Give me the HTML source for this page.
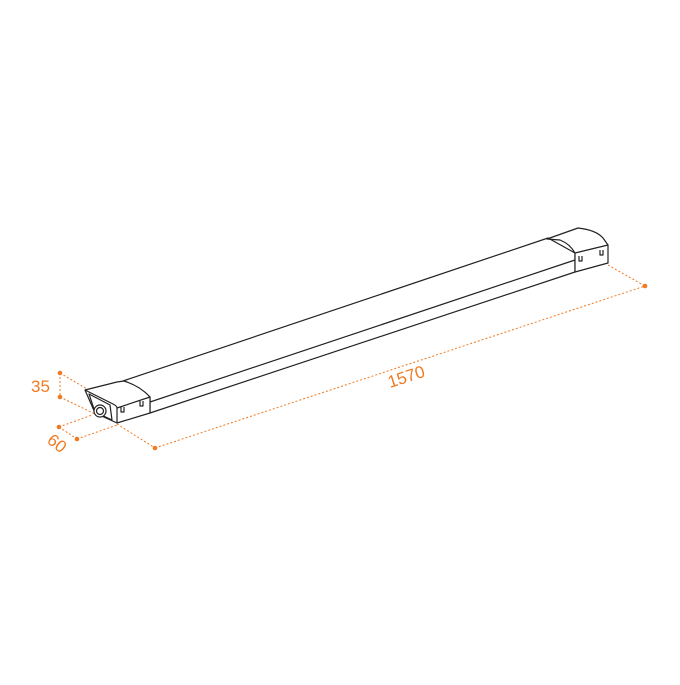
<!DOCTYPE html>
<html><head><meta charset="utf-8"><style>html,body{margin:0;padding:0;background:#fff}</style></head>
<body>
<svg width="680" height="680" viewBox="0 0 680 680" xmlns="http://www.w3.org/2000/svg">
<g stroke="#f07a22" stroke-width="1" stroke-dasharray="2,2" fill="none">
<line x1="60" y1="373" x2="60" y2="397"/>
<line x1="60" y1="373" x2="87" y2="389"/>
<line x1="60" y1="397" x2="95" y2="414"/>
<line x1="59" y1="427" x2="92" y2="415"/>
<line x1="59" y1="427" x2="77" y2="439"/>
<line x1="77" y1="439" x2="117" y2="425"/>
<line x1="117" y1="424" x2="155" y2="448"/>
<line x1="155" y1="448" x2="645" y2="286"/>
<line x1="608" y1="265" x2="645" y2="286"/>
</g>
<g fill="#f07a22">
<circle cx="60" cy="373" r="2.3"/><circle cx="60" cy="397" r="2.3"/>
<circle cx="59" cy="427" r="2.3"/><circle cx="77" cy="439" r="2.3"/>
<circle cx="155" cy="448" r="2.3"/><circle cx="645" cy="286" r="2.3"/>
</g>
<g fill="#f07a22" font-family="Liberation Sans, sans-serif" font-size="17" font-weight="300">
<text x="31" y="392">35</text>
<text x="0" y="0" transform="translate(46,442) rotate(38)">60</text>
<text x="0" y="0" transform="translate(390,388) rotate(-18)">1570</text>
</g>
<g stroke="#222" stroke-width="1.2" fill="#fff" stroke-linejoin="round">
<polygon points="123,381 548,238 575,253 575,272 150,413 150,397"/>
<line x1="150" y1="402" x2="575" y2="260"/>
<path d="M547,239 L578,228 Q596,230 603,238 L608,245 L608,263 L575,272 L575,253 Q570,244 560,240 Z"/>
<line x1="575" y1="253" x2="608" y2="245"/>
<path d="M579,256 v5 h3 v-5 M600,250 v5 h3 v-5" fill="none"/>
<path d="M85,390 L117,382 L124,381 Q140,386 150,397 L150,413 L117,423 L95,413 Z"/>
<path d="M85,390 L113,404 Q117,406 117,408 L117,423" fill="none"/>
<line x1="117" y1="408" x2="150" y2="397"/>
<path d="M89,394 L110,405 L112,420 L95,412 Z" fill="none"/>
<circle cx="100" cy="411" r="6"/>
<circle cx="100" cy="411" r="3.5" fill="none"/>
<path d="M121,407 v5 h3 v-5 M140,401 v5 h3 v-5" fill="none"/>
</g>
</svg>
</body></html>
